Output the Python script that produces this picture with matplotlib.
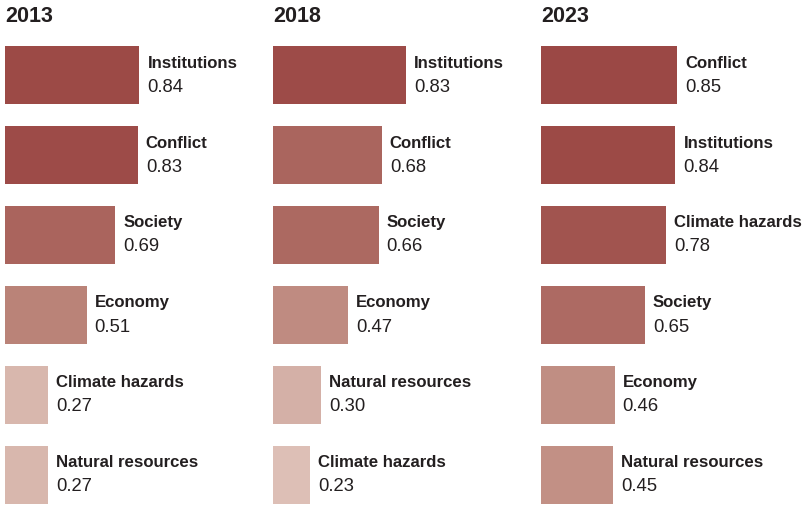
import matplotlib
matplotlib.use("Agg")
import matplotlib.pyplot as plt
from matplotlib.colors import LinearSegmentedColormap, Normalize
from matplotlib import font_manager

years = ["2013", "2018", "2023"]
labels_2013 = ["Institutions", "Conflict", "Society", "Economy", "Climate hazards", "Natural resources"]
values_2013 = [0.84, 0.83, 0.69, 0.51, 0.27, 0.27]
labels_2018 = ["Institutions", "Conflict", "Society", "Economy", "Natural resources", "Climate hazards"]
values_2018 = [0.83, 0.68, 0.66, 0.47, 0.30, 0.23]
labels_2023 = ["Conflict", "Institutions", "Climate hazards", "Society", "Economy", "Natural resources"]
values_2023 = [0.85, 0.84, 0.78, 0.65, 0.46, 0.45]

panels = [(years[0], labels_2013, values_2013),
          (years[1], labels_2018, values_2018),
          (years[2], labels_2023, values_2023)]

# pick a narrow sans if available
available = {f.name for f in font_manager.fontManager.ttflist}
family = "Liberation Sans Narrow" if "Liberation Sans Narrow" in available else "Liberation Sans"
plt.rcParams["font.family"] = [family, "DejaVu Sans"]
narrow = family == "Liberation Sans Narrow"
name_size = 13 if narrow else 12.1
value_size = 14 if narrow else 13.3

cmap = LinearSegmentedColormap.from_list(
    "reds", [(0.0, "#DDBFB6"), (0.45, "#BA8378"), (1.0, "#9B4845")])
norm = Normalize(vmin=0.23, vmax=0.85)

W, H = 806, 506
fig = plt.figure(figsize=(W / 100, H / 100), dpi=100)

px_per_unit = 160.0
panel_left = [5, 273, 541]
panel_width = 262
row0, row_step, bar_px = 76, 80, 58

for (year, labels, values), left in zip(panels, panel_left):
    ax = fig.add_axes([left / W, 0, panel_width / W, 1])
    ax.set_xlim(0, panel_width / px_per_unit)
    ax.set_ylim((H - row0) / row_step, -row0 / row_step)
    ax.axis("off")
    rows = list(range(len(values)))
    ax.barh(rows, values, height=bar_px / row_step,
            color=[cmap(norm(v)) for v in values], linewidth=0)
    for r, lab, v in zip(rows, labels, values):
        ax.annotate(lab, xy=(v, r - 13 / row_step), xytext=(8, 0),
                    textcoords="offset pixels", ha="left", va="center",
                    fontsize=name_size, fontweight="bold", color="#231f20",
                    annotation_clip=False)
        ax.annotate(f"{v:.2f}", xy=(v, r + 11 / row_step), xytext=(8, 0),
                    textcoords="offset pixels", ha="left", va="center",
                    fontsize=value_size, color="#231f20",
                    annotation_clip=False)
    fig.text(left / W, 1 - 17 / H, year, ha="left", va="center",
             fontsize=15.5, fontweight="bold", color="#231f20")

fig.savefig("out.png", dpi=100)
